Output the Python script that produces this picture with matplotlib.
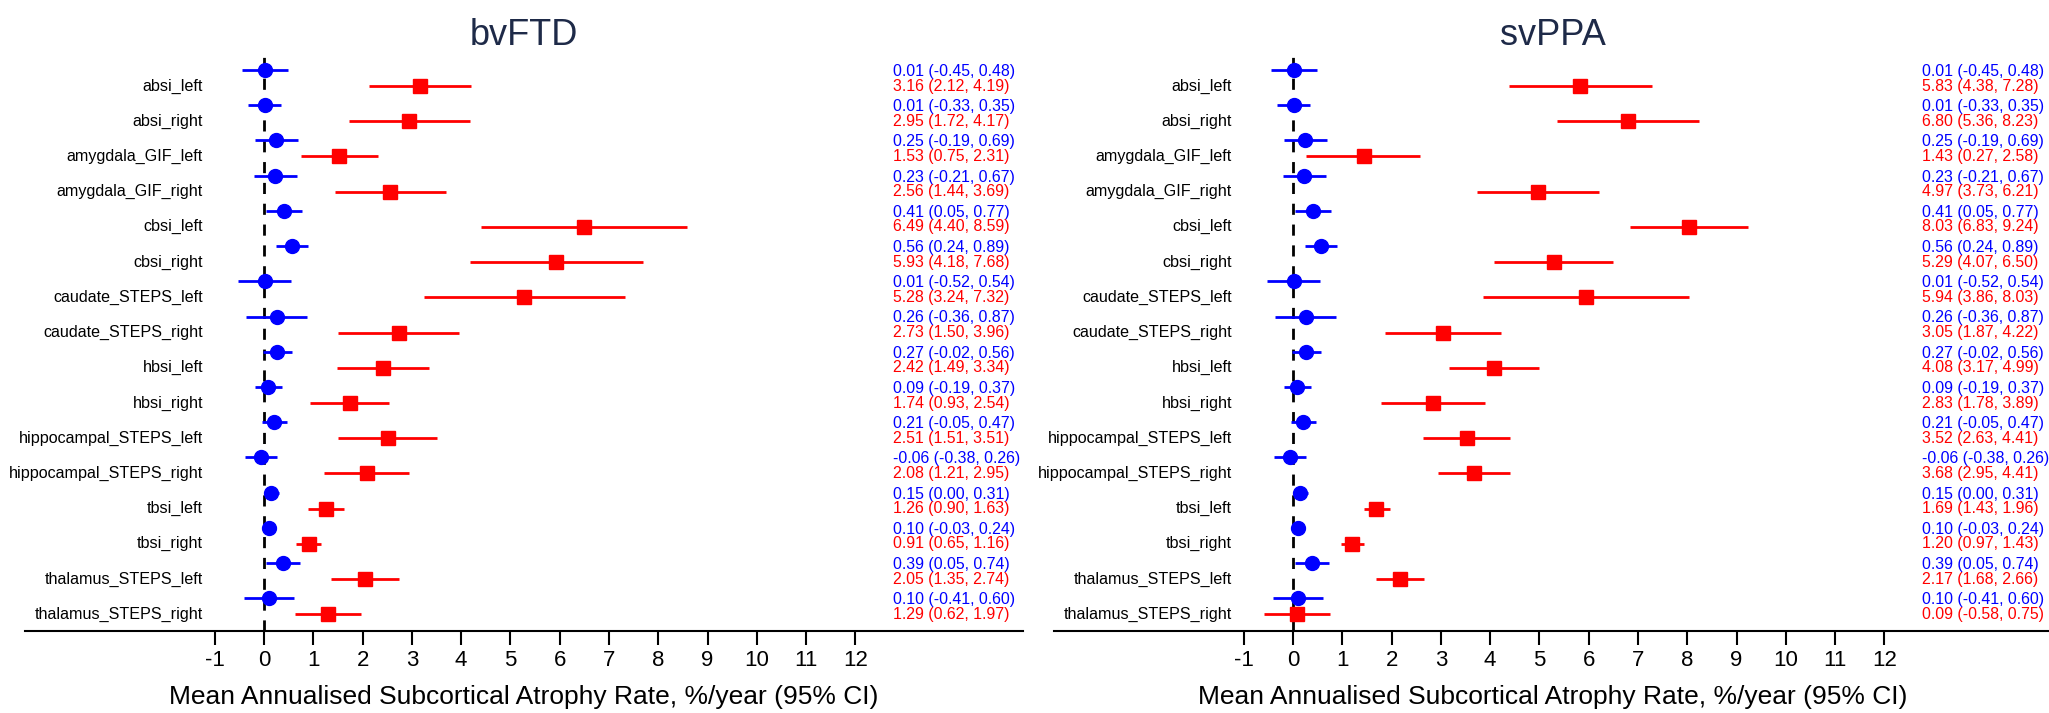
import numpy as np
import matplotlib
matplotlib.use("Agg")
import matplotlib.pyplot as plt

plt.rcParams["font.family"] = ["Liberation Sans", "DejaVu Sans"]

regions = [
    "absi_left", "absi_right", "amygdala_GIF_left", "amygdala_GIF_right",
    "cbsi_left", "cbsi_right", "caudate_STEPS_left", "caudate_STEPS_right",
    "hbsi_left", "hbsi_right", "hippocampal_STEPS_left", "hippocampal_STEPS_right",
    "tbsi_left", "tbsi_right", "thalamus_STEPS_left", "thalamus_STEPS_right",
]

# Controls (blue), shared by both panels
ctrl_mean = [0.01, 0.01, 0.25, 0.23, 0.41, 0.56, 0.01, 0.26, 0.27, 0.09, 0.21, -0.06, 0.15, 0.10, 0.39, 0.10]
ctrl_lo = [-0.45, -0.33, -0.19, -0.21, 0.05, 0.24, -0.52, -0.36, -0.02, -0.19, -0.05, -0.38, 0.00, -0.03, 0.05, -0.41]
ctrl_hi = [0.48, 0.35, 0.69, 0.67, 0.77, 0.89, 0.54, 0.87, 0.56, 0.37, 0.47, 0.26, 0.31, 0.24, 0.74, 0.60]

# bvFTD patients (red)
bv_mean = [3.16, 2.95, 1.53, 2.56, 6.49, 5.93, 5.28, 2.73, 2.42, 1.74, 2.51, 2.08, 1.26, 0.91, 2.05, 1.29]
bv_lo = [2.12, 1.72, 0.75, 1.44, 4.40, 4.18, 3.24, 1.50, 1.49, 0.93, 1.51, 1.21, 0.90, 0.65, 1.35, 0.62]
bv_hi = [4.19, 4.17, 2.31, 3.69, 8.59, 7.68, 7.32, 3.96, 3.34, 2.54, 3.51, 2.95, 1.63, 1.16, 2.74, 1.97]

# svPPA patients (red)
sv_mean = [5.83, 6.80, 1.43, 4.97, 8.03, 5.29, 5.94, 3.05, 4.08, 2.83, 3.52, 3.68, 1.69, 1.20, 2.17, 0.09]
sv_lo = [4.38, 5.36, 0.27, 3.73, 6.83, 4.07, 3.86, 1.87, 3.17, 1.78, 2.63, 2.95, 1.43, 0.97, 1.68, -0.58]
sv_hi = [7.28, 8.23, 2.58, 6.21, 9.24, 6.50, 8.03, 4.22, 4.99, 3.89, 4.41, 4.41, 1.96, 1.43, 2.66, 0.75]

xticks = list(range(-1, 13))
xlabel = "Mean Annualised Subcortical Atrophy Rate, %/year (95% CI)"
panels = [
    ("bvFTD", bv_mean, bv_lo, bv_hi),
    ("svPPA", sv_mean, sv_lo, sv_hi),
]

BLUE = "#0000ff"
RED = "#ff0000"
TITLE_COLOR = "#1e2a48"

W, H = 2049, 713
fig = plt.figure(figsize=(W / 100, H / 100), dpi=100)

ax_bottom = (H - 631) / H
ax_height = (631 - 53) / H
ax_width = 998 / W
lefts = [25 / W, 1054 / W]

off = 0.227
rows = np.arange(len(regions))

for (name, g_mean, g_lo, g_hi), left in zip(panels, lefts):
    ax = fig.add_axes([left, ax_bottom, ax_width, ax_height])
    ax.set_xlim(-4.85, 15.40)
    ax.set_ylim(15.70, -0.71)

    ax.axvline(0, color="black", lw=2.0, dashes=(4, 3.5), zorder=1)

    cm = np.array(ctrl_mean)
    ax.errorbar(cm, rows - off,
                xerr=[cm - np.array(ctrl_lo), np.array(ctrl_hi) - cm],
                fmt="o", color=BLUE, ms=10, elinewidth=2.0, capsize=0, zorder=3)
    gm = np.array(g_mean)
    ax.errorbar(gm, rows + off,
                xerr=[gm - np.array(g_lo), np.array(g_hi) - gm],
                fmt="s", color=RED, ms=10.5, elinewidth=2.0, capsize=0, zorder=3)

    for i, lab in enumerate(regions):
        ax.text(-1.24, i + off, lab, ha="right", va="center", fontsize=11.6, color="black")
        ax.text(12.76, i - off + 0.04,
                f"{ctrl_mean[i]:.2f} ({ctrl_lo[i]:.2f}, {ctrl_hi[i]:.2f})",
                ha="left", va="center", fontsize=11.4, color=BLUE)
        ax.text(12.76, i + off,
                f"{g_mean[i]:.2f} ({g_lo[i]:.2f}, {g_hi[i]:.2f})",
                ha="left", va="center", fontsize=11.4, color=RED)

    for s in ("top", "left", "right"):
        ax.spines[s].set_visible(False)
    ax.spines["bottom"].set_linewidth(1.5)
    ax.set_yticks([])
    ax.set_xticks(xticks)
    ax.set_xticklabels([str(t) for t in xticks])
    ax.tick_params(axis="x", direction="out", length=10, width=1.5,
                   pad=4, labelsize=16)

    ax.set_xlabel(xlabel, fontsize=19)
    ax.xaxis.set_label_coords(0.5, (631 - 697) / 578)
    ax.xaxis.label.set_va("center")

    ax.set_title(name, fontsize=26, color=TITLE_COLOR, pad=0)
    ax.title.set_position((0.5, (631 - 24) / 578))
    ax.title.set_va("center")

fig.savefig("out.png", dpi=100)
